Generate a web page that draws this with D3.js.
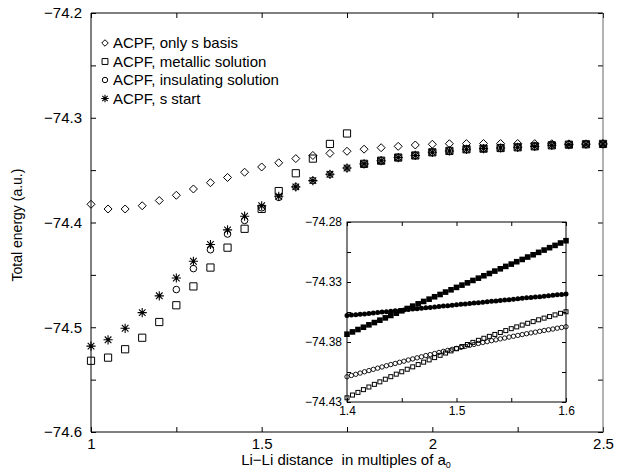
<!DOCTYPE html>
<html><head><meta charset="utf-8">
<script src="https://cdn.jsdelivr.net/npm/d3@7"></script>
<style>
html,body{margin:0;padding:0;background:#fff;}
svg{display:block;font-family:"Liberation Sans",Arial,Helvetica,sans-serif;}
</style></head>
<body><svg id="c" width="625" height="471"></svg>
<script>
// ---------------- data ----------------
const xMain = [1.00,1.05,1.10,1.15,1.20,1.25,1.30,1.35,1.40,1.45,1.50,1.55,1.60,1.65,1.70,1.75,1.80,1.85,1.90,1.95,2.00,2.05,2.10,2.15,2.20,2.25,2.30,2.35,2.40,2.45,2.50];
const onlySBasis = [-74.3826,-74.3871,-74.3871,-74.3840,-74.3790,-74.3740,-74.3680,-74.3620,-74.3570,-74.3520,-74.3470,-74.3430,-74.3390,-74.3360,-74.3340,-74.3320,-74.3300,-74.3286,-74.3273,-74.3260,-74.3253,-74.3248,-74.3247,-74.3246,-74.3246,-74.3246,-74.3247,-74.3248,-74.3249,-74.3250,-74.3250];
const metallic = [-74.532,-74.529,-74.521,-74.510,-74.495,-74.479,-74.461,-74.443,-74.424,-74.406,-74.387,-74.370,-74.353,-74.339,-74.325,-74.315,-74.344,-74.341,-74.338,-74.336,-74.333,-74.3317,-74.3301,-74.3295,-74.3289,-74.3282,-74.3273,-74.3263,-74.3257,-74.3253,-74.3250];
const insulating = [null,null,null,null,null,-74.464,-74.444,-74.426,-74.411,-74.398,-74.386,-74.376,-74.366,-74.360,-74.354,-74.348,-74.344,-74.341,-74.338,-74.336,-74.333,-74.3317,-74.3301,-74.3295,-74.3289,-74.3282,-74.3273,-74.3263,-74.3257,-74.3253,-74.3250];
const sStart = [-74.518,-74.512,-74.501,-74.486,-74.470,-74.453,-74.437,-74.421,-74.407,-74.394,-74.384,-74.375,-74.366,-74.360,-74.354,-74.348,-74.344,-74.341,-74.338,-74.336,-74.333,-74.3317,-74.3301,-74.3295,-74.3289,-74.3282,-74.3273,-74.3263,-74.3257,-74.3253,-74.3250];
const legendLabels = ["ACPF, only s basis","ACPF, metallic solution","ACPF, insulating solution","ACPF, s start"];
const xTicksMain = [1,1.25,1.5,1.75,2,2.25,2.5];
const xLabelsMain = [1,1.5,2,2.5];
const yTicksMain = [-74.6,-74.55,-74.5,-74.45,-74.4,-74.35,-74.3,-74.25,-74.2];
const yLabelsMain = [-74.6,-74.5,-74.4,-74.3,-74.2];

// inset
const insetXSq = [1.400,1.405,1.410,1.415,1.420,1.425,1.430,1.435,1.440,1.445,1.450,1.455,1.460,1.465,1.470,1.475,1.480,1.485,1.490,1.495,1.500,1.505,1.510,1.515,1.520,1.525,1.530,1.535,1.540,1.545,1.550,1.555,1.560,1.565,1.570,1.575,1.580,1.585,1.590,1.595,1.600];
const insetXCi = [1.400,1.404,1.408,1.412,1.416,1.420,1.424,1.428,1.432,1.436,1.440,1.444,1.448,1.452,1.456,1.460,1.464,1.468,1.472,1.476,1.480,1.484,1.488,1.492,1.496,1.500,1.504,1.508,1.512,1.516,1.520,1.524,1.528,1.532,1.536,1.540,1.544,1.548,1.552,1.556,1.560,1.564,1.568,1.572,1.576,1.580,1.584,1.588,1.592,1.596,1.600];
const insetFilledSq = [-74.3735,-74.3716,-74.3696,-74.3677,-74.3657,-74.3638,-74.3618,-74.3599,-74.3579,-74.3560,-74.3540,-74.3521,-74.3501,-74.3482,-74.3462,-74.3443,-74.3423,-74.3404,-74.3384,-74.3365,-74.3345,-74.3326,-74.3307,-74.3287,-74.3268,-74.3248,-74.3229,-74.3209,-74.3190,-74.3170,-74.3151,-74.3131,-74.3112,-74.3092,-74.3073,-74.3053,-74.3034,-74.3014,-74.2995,-74.2975,-74.2956];
const insetOpenSq = [-74.4265,-74.4242,-74.4220,-74.4197,-74.4175,-74.4153,-74.4132,-74.4110,-74.4089,-74.4068,-74.4048,-74.4027,-74.4007,-74.3988,-74.3968,-74.3949,-74.3930,-74.3911,-74.3892,-74.3874,-74.3856,-74.3838,-74.3821,-74.3803,-74.3786,-74.3769,-74.3753,-74.3737,-74.3721,-74.3705,-74.3689,-74.3674,-74.3659,-74.3644,-74.3630,-74.3615,-74.3601,-74.3588,-74.3574,-74.3561,-74.3548];
const insetFilledCi = [-74.3580,-74.3576,-74.3573,-74.3569,-74.3566,-74.3562,-74.3558,-74.3555,-74.3551,-74.3548,-74.3544,-74.3540,-74.3537,-74.3533,-74.3530,-74.3526,-74.3522,-74.3519,-74.3515,-74.3512,-74.3508,-74.3504,-74.3501,-74.3497,-74.3494,-74.3490,-74.3486,-74.3483,-74.3479,-74.3476,-74.3472,-74.3468,-74.3465,-74.3461,-74.3458,-74.3454,-74.3450,-74.3447,-74.3443,-74.3440,-74.3436,-74.3432,-74.3429,-74.3425,-74.3422,-74.3418,-74.3414,-74.3411,-74.3407,-74.3404,-74.3400];
const insetOpenCi = [-74.4090,-74.4079,-74.4069,-74.4059,-74.4048,-74.4038,-74.4028,-74.4018,-74.4008,-74.3998,-74.3988,-74.3979,-74.3969,-74.3960,-74.3950,-74.3941,-74.3932,-74.3923,-74.3913,-74.3905,-74.3896,-74.3887,-74.3878,-74.3870,-74.3861,-74.3853,-74.3845,-74.3836,-74.3828,-74.3820,-74.3812,-74.3804,-74.3797,-74.3789,-74.3782,-74.3774,-74.3767,-74.3759,-74.3752,-74.3745,-74.3738,-74.3731,-74.3724,-74.3718,-74.3711,-74.3704,-74.3698,-74.3692,-74.3685,-74.3679,-74.3673];
const insetXTicks = [1.4,1.45,1.5,1.55,1.6];
const insetXLabels = [1.4,1.5,1.6];
const insetYTicks = [-74.43,-74.405,-74.38,-74.355,-74.33,-74.305,-74.28];
const insetYLabels = [-74.43,-74.38,-74.33,-74.28];

// ---------------- drawing ----------------
const svg = d3.select("#c");
const M = {l:91, r:603, t:13, b:432};
const x = d3.scaleLinear().domain([1,2.5]).range([M.l,M.r]);
const y = d3.scaleLinear().domain([-74.6,-74.2]).range([M.b,M.t]);
const minus = s => String(s).replace("-","\u2212");

function styleAxis(g, fs){
  g.select(".domain").remove();
  g.selectAll(".tick line").attr("stroke","#000").attr("stroke-width",1);
  g.selectAll(".tick text").attr("fill","#000").attr("font-size",fs).attr("font-family","Liberation Sans, Arial, sans-serif");
}
function labelIf(list, f){ return v => list.some(l => Math.abs(l-v)<1e-9) ? f(v) : ""; }

// main axes
svg.append("g").attr("transform",`translate(0,${M.b})`)
  .call(d3.axisBottom(x).tickValues(xTicksMain).tickSizeInner(-5).tickSizeOuter(0).tickPadding(6)
    .tickFormat(labelIf(xLabelsMain, v=>String(v))))
  .call(g=>styleAxis(g,15));
svg.append("g").attr("transform",`translate(0,${M.t})`)
  .call(d3.axisTop(x).tickValues(xTicksMain).tickSizeInner(-5).tickSizeOuter(0).tickFormat(""))
  .call(g=>styleAxis(g,15));
svg.append("g").attr("transform",`translate(${M.l},0)`)
  .call(d3.axisLeft(y).tickValues(yTicksMain).tickSizeInner(-5).tickSizeOuter(0).tickPadding(9)
    .tickFormat(labelIf(yLabelsMain, v=>minus(d3.format(".1f")(v)))))
  .call(g=>styleAxis(g,15));
svg.append("g").attr("transform",`translate(${M.r},0)`)
  .call(d3.axisRight(y).tickValues(yTicksMain).tickSizeInner(-5).tickSizeOuter(0).tickFormat(""))
  .call(g=>styleAxis(g,15));

// frame
svg.append("line").attr("x1",M.l).attr("x2",M.r).attr("y1",M.t).attr("y2",M.t).attr("stroke","#000");
svg.append("line").attr("x1",M.l).attr("x2",M.r+0.5).attr("y1",M.b).attr("y2",M.b).attr("stroke","#000");
svg.append("line").attr("x1",M.l).attr("x2",M.l).attr("y1",M.t).attr("y2",M.b).attr("stroke","#000");
svg.append("line").attr("x1",M.r).attr("x2",M.r).attr("y1",M.t).attr("y2",M.b).attr("stroke","#666");

// axis titles
svg.append("text").attr("transform","translate(22,225) rotate(-90)").attr("text-anchor","middle")
  .attr("font-size",14).text("Total energy (a.u.)");
const xt = svg.append("text").attr("x",346).attr("y",465).attr("text-anchor","middle").attr("font-size",15);
xt.append("tspan").text("Li\u2212Li distance\u00a0 in multiples of a");
xt.append("tspan").attr("font-size",9).attr("dy",3).text("0");

// marker helpers
const pathDiamond = s => `M0,${-s}L${s},0L0,${s}L${-s},0Z`;
const pathSquare = s => `M${-s},${-s}H${s}V${s}H${-s}Z`;
const pathStar = s => { const d=s*0.72; return `M${-s},0H${s}M0,${-s}V${s}M${-d},${-d}L${d},${d}M${-d},${d}L${d},${-d}`; };

function drawMarker(g, type, cx, cy, big){
  const k = big ? 1 : 0.82;
  if(type==="diamond") g.append("path").attr("d",pathDiamond(4*k)).attr("transform",`translate(${cx},${cy})`).attr("fill","none").attr("stroke","#000").attr("stroke-width",1);
  if(type==="square") g.append("path").attr("d",pathSquare(3.6*k)).attr("transform",`translate(${cx},${cy})`).attr("fill","none").attr("stroke","#000").attr("stroke-width",1);
  if(type==="circle") g.append("circle").attr("cx",cx).attr("cy",cy).attr("r",3.3*k).attr("fill","none").attr("stroke","#000").attr("stroke-width",1);
  if(type==="star"){
    g.append("path").attr("d",pathStar(4.6*k)).attr("transform",`translate(${cx},${cy})`).attr("fill","none").attr("stroke","#000").attr("stroke-width",1.1);
    g.append("circle").attr("cx",cx).attr("cy",cy).attr("r",1.4*k).attr("fill","#000");
  }
}

const seriesMain = [
  {vals:onlySBasis, type:"diamond"},
  {vals:metallic, type:"square"},
  {vals:insulating, type:"circle"},
  {vals:sStart, type:"star"}
];
const gData = svg.append("g");
seriesMain.forEach(s=>{
  xMain.forEach((xv,i)=>{
    const v = s.vals[i];
    if(v==null) return;
    drawMarker(gData, s.type, x(xv), y(v), true);
  });
});

// legend
const legY = [43, 61.5, 80, 98.5];
const types = ["diamond","square","circle","star"];
const gLeg = svg.append("g");
legendLabels.forEach((t,i)=>{
  drawMarker(gLeg, types[i], 105, legY[i], false);
  gLeg.append("text").attr("x",113).attr("y",legY[i]+5).attr("font-size",15).text(t);
});

// ---------------- inset ----------------
const I = {l:347, r:566, t:222, b:402};
const xi = d3.scaleLinear().domain([1.4,1.6]).range([I.l,I.r]);
const yi = d3.scaleLinear().domain([-74.43,-74.28]).range([I.b,I.t]);
svg.append("rect").attr("x",I.l).attr("y",I.t).attr("width",I.r-I.l).attr("height",I.b-I.t).attr("fill","#fff");

svg.append("g").attr("transform",`translate(0,${I.b})`)
  .call(d3.axisBottom(xi).tickValues(insetXTicks).tickSizeInner(-4).tickSizeOuter(0).tickPadding(4)
    .tickFormat(labelIf(insetXLabels, v=>d3.format(".1f")(v))))
  .call(g=>styleAxis(g,12));
svg.append("g").attr("transform",`translate(0,${I.t})`)
  .call(d3.axisTop(xi).tickValues(insetXTicks).tickSizeInner(-4).tickSizeOuter(0).tickFormat(""))
  .call(g=>styleAxis(g,12));
svg.append("g").attr("transform",`translate(${I.l},0)`)
  .call(d3.axisLeft(yi).tickValues(insetYTicks).tickSizeInner(-4).tickSizeOuter(0).tickPadding(5)
    .tickFormat(labelIf(insetYLabels, v=>minus(d3.format(".2f")(v)))))
  .call(g=>styleAxis(g,12));
svg.append("g").attr("transform",`translate(${I.r},0)`)
  .call(d3.axisRight(yi).tickValues(insetYTicks).tickSizeInner(-4).tickSizeOuter(0).tickFormat(""))
  .call(g=>styleAxis(g,12));
svg.append("rect").attr("x",I.l).attr("y",I.t).attr("width",I.r-I.l).attr("height",I.b-I.t)
  .attr("fill","none").attr("stroke","#000").attr("stroke-width",1);

const gIn = svg.append("g");
insetXSq.forEach((xv,i)=>{
  gIn.append("rect").attr("x",xi(xv)-2).attr("y",yi(insetOpenSq[i])-2).attr("width",4).attr("height",4)
    .attr("fill","none").attr("stroke","#000").attr("stroke-width",1);
});
insetXCi.forEach((xv,i)=>{
  gIn.append("circle").attr("cx",xi(xv)).attr("cy",yi(insetOpenCi[i])).attr("r",2.2)
    .attr("fill","none").attr("stroke","#000").attr("stroke-width",0.9);
});
insetXCi.forEach((xv,i)=>{
  gIn.append("circle").attr("cx",xi(xv)).attr("cy",yi(insetFilledCi[i])).attr("r",2.5).attr("fill","#000");
});
insetXSq.forEach((xv,i)=>{
  gIn.append("rect").attr("x",xi(xv)-2.8).attr("y",yi(insetFilledSq[i])-2.8).attr("width",5.6).attr("height",5.6).attr("fill","#000");
});
</script></body></html>
